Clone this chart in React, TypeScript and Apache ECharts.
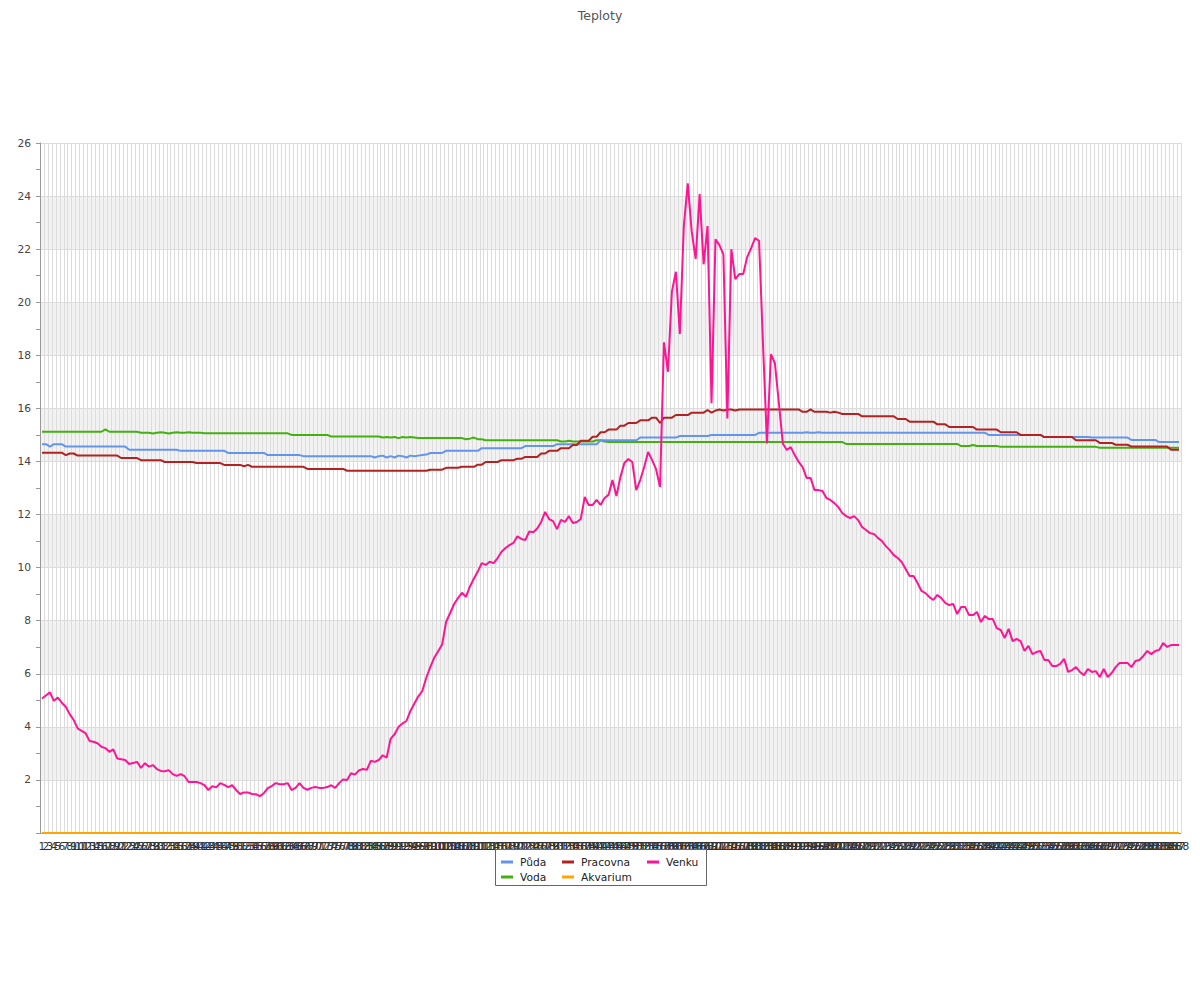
import React, { useEffect, useRef } from "react";
import * as echarts from "echarts";

const categories: string[] = Array.from({ length: 288 }, (_, i) => String(i + 1));

const yTicks = [0, 2, 4, 6, 8, 10, 12, 14, 16, 18, 20, 22, 24, 26];

const puda: number[] = [
  14.65, 14.65, 14.56, 14.65, 14.65, 14.65, 14.56, 14.56, 14.56, 14.56, 14.56, 14.56,
  14.56, 14.56, 14.56, 14.56, 14.56, 14.56, 14.56, 14.56, 14.56, 14.56, 14.44, 14.44,
  14.44, 14.44, 14.44, 14.44, 14.44, 14.44, 14.44, 14.44, 14.44, 14.44, 14.44, 14.4,
  14.4, 14.4, 14.4, 14.4, 14.4, 14.4, 14.4, 14.4, 14.4, 14.4, 14.4, 14.32,
  14.32, 14.32, 14.32, 14.32, 14.32, 14.32, 14.32, 14.32, 14.32, 14.24, 14.24, 14.24,
  14.24, 14.24, 14.24, 14.24, 14.24, 14.24, 14.2, 14.2, 14.2, 14.2, 14.2, 14.2,
  14.2, 14.2, 14.2, 14.2, 14.2, 14.2, 14.2, 14.2, 14.2, 14.2, 14.2, 14.2,
  14.15, 14.2, 14.22, 14.15, 14.2, 14.15, 14.22, 14.2, 14.15, 14.22, 14.2, 14.22,
  14.24, 14.26, 14.32, 14.32, 14.32, 14.32, 14.4, 14.4, 14.4, 14.4, 14.4, 14.4,
  14.4, 14.4, 14.4, 14.5, 14.5, 14.5, 14.5, 14.5, 14.5, 14.5, 14.5, 14.5,
  14.5, 14.5, 14.58, 14.58, 14.58, 14.58, 14.58, 14.58, 14.58, 14.58, 14.65, 14.65,
  14.65, 14.65, 14.65, 14.65, 14.65, 14.65, 14.65, 14.65, 14.65, 14.8, 14.8, 14.8,
  14.8, 14.8, 14.8, 14.8, 14.8, 14.8, 14.8, 14.9, 14.9, 14.9, 14.9, 14.9,
  14.9, 14.9, 14.9, 14.9, 14.9, 14.96, 14.96, 14.96, 14.96, 14.96, 14.96, 14.96,
  14.96, 15.0, 15.0, 15.0, 15.0, 15.0, 15.0, 15.0, 15.0, 15.0, 15.0, 15.0,
  15.0, 15.08, 15.08, 15.08, 15.08, 15.08, 15.08, 15.08, 15.08, 15.08, 15.08, 15.08,
  15.08, 15.1, 15.08, 15.08, 15.1, 15.08, 15.08, 15.08, 15.08, 15.08, 15.08, 15.08,
  15.08, 15.08, 15.08, 15.08, 15.08, 15.08, 15.08, 15.08, 15.08, 15.08, 15.08, 15.08,
  15.08, 15.08, 15.08, 15.08, 15.08, 15.08, 15.08, 15.08, 15.08, 15.08, 15.08, 15.08,
  15.08, 15.08, 15.08, 15.08, 15.08, 15.08, 15.08, 15.08, 15.08, 15.08, 15.08, 15.0,
  15.0, 15.0, 15.0, 15.0, 15.0, 15.0, 15.0, 15.0, 15.0, 15.0, 15.0, 15.0,
  15.0, 14.92, 14.92, 14.92, 14.92, 14.92, 14.92, 14.92, 14.92, 14.92, 14.92, 14.92,
  14.92, 14.9, 14.9, 14.9, 14.9, 14.9, 14.9, 14.9, 14.9, 14.9, 14.9, 14.81,
  14.81, 14.81, 14.81, 14.81, 14.81, 14.81, 14.73, 14.73, 14.73, 14.73, 14.73, 14.73,
];

const pracovna: number[] = [
  14.33, 14.33, 14.33, 14.33, 14.33, 14.33, 14.24, 14.3, 14.3, 14.22, 14.22, 14.22,
  14.22, 14.22, 14.22, 14.22, 14.22, 14.22, 14.22, 14.22, 14.13, 14.13, 14.13, 14.13,
  14.13, 14.05, 14.05, 14.05, 14.05, 14.05, 14.05, 13.98, 13.98, 13.98, 13.98, 13.98,
  13.98, 13.98, 13.98, 13.94, 13.94, 13.94, 13.94, 13.94, 13.94, 13.94, 13.87, 13.87,
  13.87, 13.87, 13.87, 13.82, 13.87, 13.8, 13.8, 13.8, 13.8, 13.8, 13.8, 13.8,
  13.8, 13.8, 13.8, 13.8, 13.8, 13.8, 13.8, 13.72, 13.72, 13.72, 13.72, 13.72,
  13.72, 13.72, 13.72, 13.72, 13.72, 13.65, 13.65, 13.65, 13.65, 13.65, 13.65, 13.65,
  13.65, 13.65, 13.65, 13.65, 13.65, 13.65, 13.65, 13.65, 13.65, 13.65, 13.65, 13.65,
  13.65, 13.65, 13.69, 13.69, 13.69, 13.69, 13.76, 13.76, 13.76, 13.76, 13.8, 13.8,
  13.8, 13.8, 13.88, 13.88, 13.98, 13.98, 13.98, 13.98, 14.05, 14.05, 14.05, 14.05,
  14.1, 14.1, 14.17, 14.17, 14.17, 14.17, 14.3, 14.3, 14.4, 14.4, 14.4, 14.5,
  14.5, 14.5, 14.62, 14.62, 14.78, 14.78, 14.78, 14.93, 14.93, 15.1, 15.1, 15.2,
  15.2, 15.2, 15.35, 15.35, 15.45, 15.45, 15.45, 15.55, 15.55, 15.55, 15.65, 15.65,
  15.45, 15.65, 15.65, 15.65, 15.75, 15.75, 15.75, 15.75, 15.84, 15.84, 15.84, 15.84,
  15.94, 15.84, 15.92, 15.96, 15.92, 15.96, 15.96, 15.92, 15.96, 15.96, 15.96, 15.96,
  15.96, 15.96, 15.96, 15.96, 15.96, 15.96, 15.96, 15.96, 15.96, 15.96, 15.96, 15.96,
  15.87, 15.87, 15.96, 15.87, 15.87, 15.87, 15.87, 15.84, 15.87, 15.84, 15.79, 15.79,
  15.79, 15.79, 15.79, 15.7, 15.7, 15.7, 15.7, 15.7, 15.7, 15.7, 15.7, 15.7,
  15.6, 15.6, 15.6, 15.5, 15.5, 15.5, 15.5, 15.5, 15.5, 15.5, 15.4, 15.4,
  15.4, 15.3, 15.3, 15.3, 15.3, 15.3, 15.3, 15.3, 15.2, 15.2, 15.2, 15.2,
  15.2, 15.2, 15.1, 15.1, 15.1, 15.1, 15.1, 15.0, 15.0, 15.0, 15.0, 15.0,
  15.0, 14.92, 14.92, 14.92, 14.92, 14.92, 14.92, 14.92, 14.92, 14.8, 14.8, 14.8,
  14.8, 14.8, 14.8, 14.7, 14.7, 14.7, 14.7, 14.63, 14.63, 14.63, 14.63, 14.56,
  14.56, 14.56, 14.56, 14.56, 14.56, 14.56, 14.56, 14.56, 14.56, 14.44, 14.44, 14.44,
];

const venku: number[] = [
  5.07, 5.18, 5.3, 4.98, 5.1, 4.91, 4.76, 4.48, 4.26, 3.94, 3.85, 3.76,
  3.47, 3.44, 3.38, 3.25, 3.2, 3.06, 3.15, 2.81, 2.78, 2.75, 2.6, 2.64,
  2.68, 2.45, 2.63, 2.5, 2.56, 2.41, 2.34, 2.33, 2.37, 2.22, 2.15, 2.22,
  2.14, 1.92, 1.92, 1.92, 1.88, 1.8, 1.62, 1.76, 1.72, 1.88, 1.81, 1.73,
  1.8, 1.62, 1.47, 1.53, 1.53, 1.47, 1.46, 1.39, 1.5, 1.69, 1.77, 1.88,
  1.84, 1.84, 1.88, 1.62, 1.7, 1.88, 1.7, 1.63, 1.7, 1.73, 1.7, 1.7,
  1.73, 1.8, 1.7, 1.88, 2.02, 2.0, 2.25, 2.2, 2.36, 2.41, 2.38, 2.72,
  2.68, 2.75, 2.93, 2.84, 3.55, 3.72, 4.0, 4.13, 4.22, 4.6, 4.88, 5.15,
  5.35, 5.85, 6.25, 6.6, 6.85, 7.1, 7.95, 8.28, 8.62, 8.85, 9.05, 8.9,
  9.28, 9.58, 9.85, 10.17, 10.1, 10.22, 10.17, 10.36, 10.6, 10.74, 10.85, 10.93,
  11.18, 11.08, 11.04, 11.36, 11.33, 11.47, 11.72, 12.1, 11.83, 11.75, 11.45, 11.8,
  11.72, 11.94, 11.68, 11.72, 11.83, 12.66, 12.36, 12.36, 12.55, 12.36, 12.62, 12.74,
  13.3, 12.7, 13.41, 13.94, 14.09, 13.98, 12.92, 13.3, 13.79, 14.36, 14.05, 13.71,
  13.04, 18.49, 17.38, 20.4, 21.15, 18.8, 22.85, 24.48, 22.66, 21.63, 24.08, 21.43,
  22.87, 16.19, 22.37, 22.15, 21.8, 15.62, 22.0, 20.87, 21.06, 21.06, 21.7, 22.04,
  22.42, 22.31, 18.4, 14.68, 18.04, 17.7, 16.2, 14.68, 14.43, 14.54, 14.24, 13.98,
  13.79, 13.38, 13.38, 12.92, 12.92, 12.89, 12.62, 12.55, 12.43, 12.28, 12.06, 11.94,
  11.87, 11.94, 11.79, 11.53, 11.42, 11.3, 11.27, 11.12, 11.0, 10.81, 10.66, 10.47,
  10.36, 10.21, 9.95, 9.68, 9.68, 9.42, 9.12, 9.04, 8.89, 8.78, 8.97, 8.85,
  8.67, 8.59, 8.63, 8.25, 8.52, 8.52, 8.21, 8.21, 8.33, 7.95, 8.18, 8.06,
  8.06, 7.72, 7.65, 7.35, 7.69, 7.23, 7.31, 7.23, 6.86, 7.05, 6.74, 6.82,
  6.86, 6.52, 6.52, 6.29, 6.29, 6.37, 6.56, 6.07, 6.14, 6.25, 6.07, 5.95,
  6.18, 6.07, 6.1, 5.88, 6.18, 5.88, 6.03, 6.25, 6.41, 6.41, 6.41, 6.25,
  6.48, 6.52, 6.67, 6.86, 6.74, 6.86, 6.9, 7.16, 7.01, 7.08, 7.08, 7.08,
];

const voda: number[] = [
  15.12, 15.12, 15.12, 15.12, 15.12, 15.12, 15.12, 15.12, 15.12, 15.12, 15.12, 15.12,
  15.12, 15.12, 15.12, 15.12, 15.21, 15.12, 15.12, 15.12, 15.12, 15.12, 15.12, 15.12,
  15.12, 15.08, 15.08, 15.08, 15.05, 15.08, 15.1, 15.08, 15.05, 15.08, 15.1, 15.08,
  15.08, 15.1, 15.08, 15.08, 15.08, 15.06, 15.06, 15.06, 15.06, 15.06, 15.06, 15.06,
  15.06, 15.06, 15.06, 15.06, 15.06, 15.06, 15.06, 15.06, 15.06, 15.06, 15.06, 15.06,
  15.06, 15.06, 15.06, 15.0, 15.0, 15.0, 15.0, 15.0, 15.0, 15.0, 15.0, 15.0,
  15.0, 14.94, 14.94, 14.94, 14.94, 14.94, 14.94, 14.94, 14.94, 14.94, 14.94, 14.94,
  14.94, 14.94, 14.9, 14.92, 14.9, 14.92, 14.88, 14.92, 14.9, 14.92, 14.9, 14.88,
  14.88, 14.88, 14.88, 14.88, 14.88, 14.88, 14.88, 14.88, 14.88, 14.88, 14.88, 14.84,
  14.86, 14.9, 14.84, 14.84, 14.8, 14.8, 14.8, 14.8, 14.8, 14.8, 14.8, 14.8,
  14.8, 14.8, 14.8, 14.8, 14.8, 14.8, 14.8, 14.8, 14.8, 14.8, 14.8, 14.75,
  14.75, 14.78, 14.75, 14.75, 14.75, 14.75, 14.75, 14.75, 14.8, 14.8, 14.75, 14.73,
  14.73, 14.73, 14.73, 14.73, 14.73, 14.73, 14.73, 14.73, 14.73, 14.73, 14.73, 14.73,
  14.73, 14.73, 14.73, 14.73, 14.73, 14.73, 14.73, 14.73, 14.73, 14.73, 14.73, 14.73,
  14.73, 14.73, 14.73, 14.73, 14.73, 14.73, 14.73, 14.73, 14.73, 14.73, 14.73, 14.73,
  14.73, 14.73, 14.73, 14.73, 14.73, 14.73, 14.73, 14.73, 14.73, 14.73, 14.73, 14.73,
  14.73, 14.73, 14.73, 14.73, 14.73, 14.73, 14.73, 14.73, 14.73, 14.73, 14.73, 14.66,
  14.66, 14.66, 14.66, 14.66, 14.66, 14.66, 14.66, 14.66, 14.66, 14.66, 14.66, 14.66,
  14.66, 14.66, 14.66, 14.66, 14.66, 14.66, 14.66, 14.66, 14.66, 14.66, 14.66, 14.66,
  14.66, 14.66, 14.66, 14.66, 14.58, 14.58, 14.58, 14.62, 14.58, 14.58, 14.58, 14.58,
  14.58, 14.58, 14.55, 14.55, 14.55, 14.55, 14.55, 14.55, 14.55, 14.55, 14.55, 14.55,
  14.55, 14.55, 14.55, 14.55, 14.55, 14.55, 14.55, 14.55, 14.55, 14.55, 14.55, 14.55,
  14.55, 14.55, 14.55, 14.52, 14.52, 14.52, 14.52, 14.52, 14.52, 14.52, 14.52, 14.52,
  14.52, 14.52, 14.52, 14.52, 14.52, 14.52, 14.52, 14.52, 14.52, 14.52, 14.52, 14.52,
];

const akvarium: number[] = [
  0, 0, 0, 0, 0, 0, 0, 0, 0, 0, 0, 0,
  0, 0, 0, 0, 0, 0, 0, 0, 0, 0, 0, 0,
  0, 0, 0, 0, 0, 0, 0, 0, 0, 0, 0, 0,
  0, 0, 0, 0, 0, 0, 0, 0, 0, 0, 0, 0,
  0, 0, 0, 0, 0, 0, 0, 0, 0, 0, 0, 0,
  0, 0, 0, 0, 0, 0, 0, 0, 0, 0, 0, 0,
  0, 0, 0, 0, 0, 0, 0, 0, 0, 0, 0, 0,
  0, 0, 0, 0, 0, 0, 0, 0, 0, 0, 0, 0,
  0, 0, 0, 0, 0, 0, 0, 0, 0, 0, 0, 0,
  0, 0, 0, 0, 0, 0, 0, 0, 0, 0, 0, 0,
  0, 0, 0, 0, 0, 0, 0, 0, 0, 0, 0, 0,
  0, 0, 0, 0, 0, 0, 0, 0, 0, 0, 0, 0,
  0, 0, 0, 0, 0, 0, 0, 0, 0, 0, 0, 0,
  0, 0, 0, 0, 0, 0, 0, 0, 0, 0, 0, 0,
  0, 0, 0, 0, 0, 0, 0, 0, 0, 0, 0, 0,
  0, 0, 0, 0, 0, 0, 0, 0, 0, 0, 0, 0,
  0, 0, 0, 0, 0, 0, 0, 0, 0, 0, 0, 0,
  0, 0, 0, 0, 0, 0, 0, 0, 0, 0, 0, 0,
  0, 0, 0, 0, 0, 0, 0, 0, 0, 0, 0, 0,
  0, 0, 0, 0, 0, 0, 0, 0, 0, 0, 0, 0,
  0, 0, 0, 0, 0, 0, 0, 0, 0, 0, 0, 0,
  0, 0, 0, 0, 0, 0, 0, 0, 0, 0, 0, 0,
  0, 0, 0, 0, 0, 0, 0, 0, 0, 0, 0, 0,
  0, 0, 0, 0, 0, 0, 0, 0, 0, 0, 0, 0,
];

const seriesNames = ["Půda", "Pracovna", "Venku", "Voda", "Akvarium"];
const seriesColors: Record<string, string> = {
  "Půda": "#6495ED",
  "Pracovna": "#B22222",
  "Venku": "#FF1493",
  "Voda": "#44B010",
  "Akvarium": "#FFA500",
};
const seriesData: Record<string, number[]> = {
  "Půda": puda,
  "Pracovna": pracovna,
  "Venku": venku,
  "Voda": voda,
  "Akvarium": akvarium,
};
const drawOrder = ["Akvarium", "Voda", "Půda", "Pracovna", "Venku"];

// legend slot positions (left, top) in row-major order matching seriesNames
const legendSlots: [number, number][] = [
  [501, 855],
  [562, 855],
  [647, 855],
  [501, 870],
  [562, 870],
];

const FONT = "DejaVu Sans";

export default function App() {
  const ref = useRef<HTMLDivElement>(null);
  useEffect(() => {
    if (!ref.current) return;
    const chart = echarts.init(ref.current, null, { renderer: "svg" });
    const option: any = {
      animation: false,
      backgroundColor: "#ffffff",
      textStyle: { fontFamily: FONT },
      title: {
        text: "Teploty",
        left: "center",
        top: 4,
        textStyle: { fontSize: 12.5, fontWeight: "normal", color: "#555", fontFamily: FONT },
      },
      grid: { left: 40, right: 19, top: 143, bottom: 167, containLabel: false },
      xAxis: {
        type: "category",
        data: categories,
        boundaryGap: true,
        axisLine: { show: true, lineStyle: { color: "#999", width: 1 } },
        axisTick: { show: false },
        axisLabel: {
          interval: 0,
          hideOverlap: false,
          fontSize: 10.67,
          color: "#333",
          margin: 8,
          fontFamily: FONT,
        },
        splitLine: { show: true, interval: 0, lineStyle: { color: "#dcdcdc", width: 1 } },
      },
      yAxis: {
        type: "value",
        min: yTicks[0],
        max: yTicks[yTicks.length - 1],
        interval: 2,
        axisLine: { show: true, lineStyle: { color: "#999", width: 1 } },
        axisTick: { show: true, length: 4, lineStyle: { color: "#999" } },
        minorTick: { show: true, splitNumber: 2, length: 4, lineStyle: { color: "#999" } },
        axisLabel: {
          fontSize: 10.67,
          color: "#444",
          margin: 9,
          fontFamily: FONT,
          formatter: (v: number) => (v === 0 ? "" : String(v)),
        },
        splitLine: { show: true, lineStyle: { color: "#dcdcdc", width: 1 } },
        splitArea: { show: true, areaStyle: { color: ["#ffffff", "#f2f2f2"] } },
      },
      legend: seriesNames.map((name, i) => ({
        data: [name],
        left: legendSlots[i][0],
        top: legendSlots[i][1],
        padding: 0,
        icon: "rect",
        itemWidth: 12,
        itemHeight: 3,
        itemStyle: { borderWidth: 0 },
        selectedMode: false,
        textStyle: { fontSize: 10.67, color: "#222", fontFamily: FONT, lineHeight: 14, padding: [0, 0, 0, 2] },
      })),
      graphic: [
        {
          type: "rect",
          z: 1,
          shape: { x: 495.5, y: 849.5, width: 211, height: 36 },
          style: { fill: "#ffffff", stroke: "#666", lineWidth: 1 },
        },
      ],
      series: drawOrder.map((name) => ({
        name,
        type: "line",
        data: seriesData[name],
        symbol: "none",
        showSymbol: false,
        smooth: false,
        lineStyle: { width: 2, color: seriesColors[name] },
        itemStyle: { color: seriesColors[name] },
      })),
    };
    chart.setOption(option);
    return () => chart.dispose();
  }, []);
  return (
    <div
      ref={ref}
      style={{ position: "absolute", left: 0, top: 0, width: 1200, height: 1000 }}
    />
  );
}
